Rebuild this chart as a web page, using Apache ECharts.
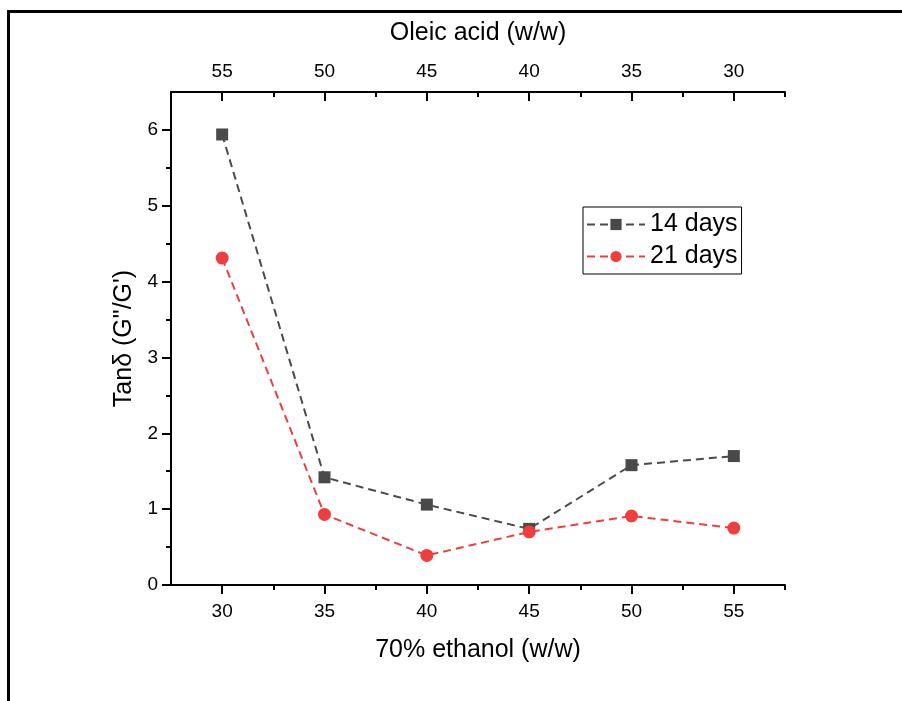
<!DOCTYPE html>
<html>
<head>
<meta charset="utf-8">
<script src="https://cdn.jsdelivr.net/npm/echarts@6/dist/echarts.min.js"></script>
<style>
html,body{margin:0;padding:0;background:#fff;}
#chart{width:902px;height:701px;}
</style>
</head>
<body>
<div id="chart"></div>
<script>
var ethanol = [30, 35, 40, 45, 50, 55];
var days14 = [5.94, 1.42, 1.06, 0.74, 1.58, 1.70];
var days21 = [4.31, 0.93, 0.39, 0.70, 0.91, 0.75];
var xMajorTicks = [30, 35, 40, 45, 50, 55];
var xMinorTicks = [32.5, 37.5, 42.5, 47.5, 52.5, 57.5];
var oleicLabels = [55, 50, 45, 40, 35, 30];
var yMajorTicks = [0, 1, 2, 3, 4, 5, 6];
var yMinorTicks = [0.5, 1.5, 2.5, 3.5, 4.5, 5.5];

var FONT = 'Liberation Sans, Arial, sans-serif';
var chart = echarts.init(document.getElementById('chart'), null, {renderer: 'canvas'});

function pairs(xs, ys) { return xs.map(function (x, i) { return [x, ys[i]]; }); }

var gridRect = {left: 171, top: 92, right: 117, bottom: 116};
var axisLineStyle = {color: '#000', width: 2};

chart.setOption({
  animation: false,
  backgroundColor: '#fff',
  grid: [
    Object.assign({}, gridRect),
    Object.assign({}, gridRect)
  ],
  xAxis: [
    {
      gridIndex: 0, type: 'value', position: 'bottom', min: 27.5, max: 57.5,
      name: '70% ethanol (w/w)', nameLocation: 'middle', nameGap: 53,
      nameTextStyle: {fontFamily: FONT, fontSize: 25, color: '#000'},
      axisLine: {show: true, lineStyle: axisLineStyle},
      axisTick: {show: true, customValues: xMajorTicks, length: 9, inside: false, lineStyle: axisLineStyle},
      axisLabel: {customValues: xMajorTicks, margin: 17, fontFamily: FONT, fontSize: 19, color: '#000'},
      splitLine: {show: false}
    },
    {
      gridIndex: 0, type: 'value', position: 'top', min: 27.5, max: 57.5, inverse: true,
      name: 'Oleic acid (w/w)', nameLocation: 'middle', nameGap: 46,
      nameTextStyle: {fontFamily: FONT, fontSize: 25, color: '#000'},
      axisLine: {show: true, lineStyle: axisLineStyle},
      axisTick: {show: true, customValues: oleicLabels, length: 9, inside: true, lineStyle: axisLineStyle},
      axisLabel: {customValues: oleicLabels, margin: 11, fontFamily: FONT, fontSize: 19, color: '#000'},
      splitLine: {show: false}
    },
    {
      gridIndex: 1, type: 'value', position: 'bottom', min: 27.5, max: 57.5,
      axisLine: {show: false},
      axisTick: {show: true, customValues: xMinorTicks, length: 5, inside: false, lineStyle: axisLineStyle},
      axisLabel: {show: false},
      splitLine: {show: false}
    },
    {
      gridIndex: 1, type: 'value', position: 'top', min: 27.5, max: 57.5,
      axisLine: {show: false},
      axisTick: {show: true, customValues: xMinorTicks, length: 5, inside: true, lineStyle: axisLineStyle},
      axisLabel: {show: false},
      splitLine: {show: false}
    }
  ],
  yAxis: [
    {
      gridIndex: 0, type: 'value', position: 'left', min: 0, max: 6.5,
      name: 'Tan\u03b4 (G"/G\')', nameLocation: 'middle', nameGap: 33,
      nameTextStyle: {fontFamily: FONT, fontSize: 25, color: '#000'},
      axisLine: {show: true, lineStyle: axisLineStyle},
      axisTick: {show: true, customValues: yMajorTicks, length: 9, inside: false, lineStyle: axisLineStyle},
      axisLabel: {customValues: yMajorTicks, margin: 13, fontFamily: FONT, fontSize: 19, color: '#000'},
      splitLine: {show: false}
    },
    {
      gridIndex: 1, type: 'value', position: 'left', min: 0, max: 6.5,
      axisLine: {show: false},
      axisTick: {show: true, customValues: yMinorTicks, length: 5, inside: false, lineStyle: axisLineStyle},
      axisLabel: {show: false},
      splitLine: {show: false}
    }
  ],
  legend: {
    left: 583, top: 207,
    orient: 'vertical',
    borderColor: '#000', borderWidth: 1,
    padding: [5, 4, 5, 3],
    itemGap: 7,
    itemWidth: 58, itemHeight: 14,
    textStyle: {fontFamily: FONT, fontSize: 25, color: '#000'},
    data: ['14 days', '21 days']
  },
  series: [
    {
      name: '14 days', type: 'line', xAxisIndex: 0, yAxisIndex: 0,
      data: pairs(ethanol, days14),
      symbol: 'rect', symbolSize: 12,
      itemStyle: {color: '#4a4a4a'},
      lineStyle: {color: '#4a4a4a', width: 2, type: [8, 5]}
    },
    {
      name: '21 days', type: 'line', xAxisIndex: 0, yAxisIndex: 0,
      data: pairs(ethanol, days21),
      symbol: 'circle', symbolSize: 13,
      itemStyle: {color: '#ee3e3e'},
      lineStyle: {color: '#ee3e3e', width: 2, type: [8, 5]}
    }
  ],
  graphic: [
    {type: 'line', shape: {x1: 7, y1: 11.5, x2: 902, y2: 11.5}, style: {stroke: '#000', lineWidth: 3}, silent: true},
    {type: 'line', shape: {x1: 8.5, y1: 10, x2: 8.5, y2: 701}, style: {stroke: '#000', lineWidth: 3}, silent: true}
  ]
});
</script>
</body>
</html>
